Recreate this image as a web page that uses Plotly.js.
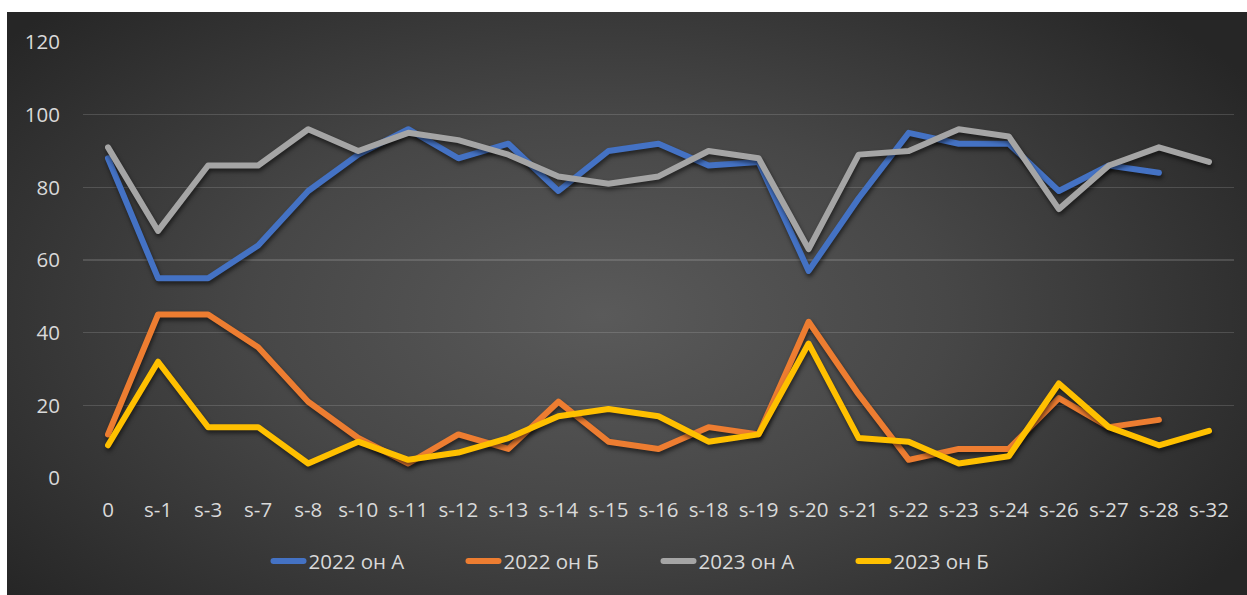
<!DOCTYPE html>
<html>
<head>
<meta charset="utf-8">
<script src="https://cdn.plot.ly/plotly-3.0.1.min.js"></script>
<style>
  html, body { margin: 0; padding: 0; background: #ffffff; }
  #bg { position: absolute; left: 7px; top: 12px; width: 1240px; height: 583px;
        background: radial-gradient(ellipse 62% 75% at 48% 52%, #5a5a5a 0%, #474747 45%, #262626 100%); }
  #chart { position: absolute; left: 0; top: 0; width: 1247px; height: 595px; }
  #chart .scatterlayer path.js-line { stroke-linejoin: round; stroke-linecap: round;
        filter: drop-shadow(1px 3px 2px rgba(0,0,0,0.55)); }
  #chart .legendlines path { stroke-linecap: round; }
</style>
</head>
<body>
<div id="bg"></div>
<div id="chart"></div>
<script>
const categories = ['0','s-1','s-3','s-7','s-8','s-10','s-11','s-12','s-13','s-14','s-15','s-16','s-18','s-19','s-20','s-21','s-22','s-23','s-24','s-26','s-27','s-28','s-32'];
const a2022 = [88,55,55,64,79,89,96,88,92,79,90,92,86,87,57,77,95,92,92,79,86,84,null];
const b2022 = [12,45,45,36,21,11,4,12,8,21,10,8,14,12,43,23,5,8,8,22,14,16,null];
const a2023 = [91,68,86,86,96,90,95,93,89,83,81,83,90,88,63,89,90,96,94,74,86,91,87];
const b2023 = [9,32,14,14,4,10,5,7,11,17,19,17,10,12,37,11,10,4,6,26,14,9,13];
const seriesNames = ['2022 он A','2022 он Б','2023 он A','2023 он Б'];
const seriesColors = ['#4472C4','#ED7D31','#A5A5A5','#FFC000'];
const yTicks = [0,20,40,60,80,100,120];

const font = {family: 'Open Sans, Lato, sans-serif', size: 20.5, color: '#d9d9d9'};
const allData = [a2022, b2022, a2023, b2023];
const traces = allData.map((vals, i) => ({
  type: 'scatter', mode: 'lines', x: categories, y: vals, name: seriesNames[i],
  line: {color: seriesColors[i], width: 6}, connectgaps: false
}));

const layout = {
  width: 1247, height: 595,
  paper_bgcolor: 'rgba(0,0,0,0)', plot_bgcolor: 'rgba(0,0,0,0)',
  margin: {l: 83, r: 13, t: 42, b: 117, autoexpand: false},
  font: font,
  showlegend: true,
  legend: {orientation: 'h', x: 0.5, xanchor: 'center', y: -0.145, yanchor: 'top',
           font: font, entrywidth: 150, entrywidthmode: 'pixels',
           bgcolor: 'rgba(0,0,0,0)'},
  xaxis: {type: 'category', range: [-0.5, 22.5], showgrid: false, zeroline: false,
          showline: false, ticks: '', tickfont: font, ticklabelstandoff: 17, fixedrange: true, automargin: false},
  yaxis: {range: [0, 120], tickvals: yTicks, ticktext: yTicks.map(String),
          showgrid: true, gridcolor: 'rgba(217,217,217,0.18)', gridwidth: 1.3,
          zeroline: false, showline: false, ticks: '', tickfont: font,
          ticklabelstandoff: 22, fixedrange: true, automargin: false}
};
Plotly.newPlot('chart', traces, layout, {displayModeBar: false, staticPlot: true});
</script>
</body>
</html>
